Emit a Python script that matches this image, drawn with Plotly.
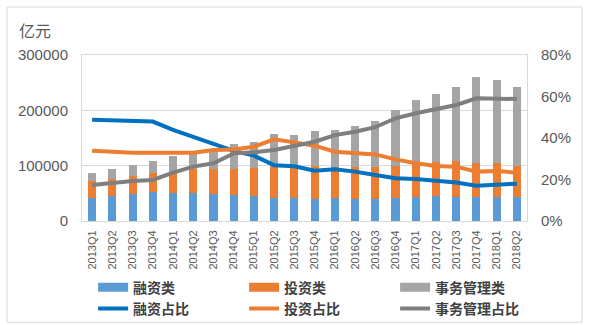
import plotly.graph_objects as go

quarters = ["2013Q1","2013Q2","2013Q3","2013Q4","2014Q1","2014Q2","2014Q3","2014Q4",
            "2015Q1","2015Q2","2015Q3","2015Q4","2016Q1","2016Q2","2016Q3","2016Q4",
            "2017Q1","2017Q2","2017Q3","2017Q4","2018Q1","2018Q2"]

financing = [42000,46000,49000,53000,51000,51000,49000,47000,46000,42000,42000,40000,
             42000,40000,40000,42000,43000,46000,43000,43000,43000,43000]
investment = [30000,30000,33000,34000,37000,43000,45000,47000,50000,55000,58000,60000,
              56000,58000,58000,58000,59000,61000,65000,62000,62000,57000]
admin = [15000,18000,19000,21000,30000,28000,32000,46000,47000,60000,56000,63000,
         67000,74000,83000,101000,117000,123000,134000,155000,150000,142000]

financing_pct = [48.8,48.4,48.0,47.9,43.9,40.5,37.5,33.8,31.5,26.9,26.4,24.2,
                 24.9,23.8,22.2,20.6,20.2,19.3,18.6,17.0,17.5,18.0]
investment_pct = [33.9,33.2,32.9,32.9,33.1,32.9,34.2,34.5,35.8,39.4,37.9,36.3,
                  33.4,32.9,32.1,29.7,27.8,26.5,26.2,23.8,24.1,23.3]
admin_pct = [17.3,18.5,19.3,19.8,23.3,26.2,27.8,32.6,33.1,34.2,36.1,38.2,
             41.4,43.0,45.2,49.5,51.9,53.8,55.9,59.1,58.8,58.8]

bar_names = ["融资类", "投资类", "事务管理类"]
line_names = ["融资占比", "投资占比", "事务管理占比"]
bar_colors = ["#5B9BD5", "#ED7D31", "#A5A5A5"]
line_colors = ["#0070C0", "#ED7D31", "#7F7F7F"]

fig = go.Figure()
for name, vals, col in zip(bar_names, [financing, investment, admin], bar_colors):
    fig.add_trace(go.Bar(x=quarters, y=vals, name=name, marker_color=col,
                         marker_line_width=0, showlegend=False))
for name, vals, col in zip(line_names, [financing_pct, investment_pct, admin_pct], line_colors):
    fig.add_trace(go.Scatter(x=quarters, y=[v / 100 for v in vals], name=name, mode="lines",
                             line=dict(color=col, width=4), yaxis="y2", showlegend=False))

# legend entries (bars shown as wide swatches, lines as thinner swatches)
for name, col in zip(bar_names, bar_colors):
    fig.add_trace(go.Scatter(x=[None], y=[None], name=name, mode="lines",
                             line=dict(color=col, width=9)))
for name, col in zip(line_names, line_colors):
    fig.add_trace(go.Scatter(x=[None], y=[None], name=name, mode="lines",
                             line=dict(color=col, width=4)))

tickfont = dict(family="Liberation Sans, Arial, sans-serif", size=15, color="#595959")
grid = "#D9D9D9"

fig.update_layout(
    width=589, height=325,
    margin=dict(l=82, r=62, t=55, b=104, autoexpand=False),
    paper_bgcolor="white", plot_bgcolor="white",
    barmode="stack", bargap=0.6,
    font=dict(family="Noto Sans CJK SC, sans-serif", color="#404040"),
    xaxis=dict(type="category", tickangle=-90, showgrid=False, ticks="",
               tickfont=dict(family="Liberation Sans, Arial, sans-serif", size=11, color="#595959"),
               showline=True, linecolor=grid, linewidth=1, mirror=True, ticklabelstandoff=4),
    yaxis=dict(range=[0, 300000], dtick=100000, showgrid=True, gridcolor=grid, gridwidth=1,
               tickfont=tickfont, zeroline=False, ticks="", tickformat="d",
               showline=True, linecolor=grid, mirror=True, ticklabelstandoff=10),
    yaxis2=dict(range=[0, 0.8], dtick=0.2, overlaying="y", side="right", showgrid=False,
                tickformat=".0%", tickfont=tickfont, zeroline=False, ticks="",
                ticklabelstandoff=13),
    legend=dict(orientation="h", x=-0.002, xanchor="left",
                y=-0.305, yanchor="top", indentation=12,
                entrywidth=94, traceorder="normal",
                font=dict(size=14, color="#404040", family="Noto Sans CJK SC, sans-serif",
                          weight="bold"),
                itemwidth=30, tracegroupgap=0, bgcolor="rgba(0,0,0,0)"),
    annotations=[dict(text="亿元", xref="paper", yref="paper", x=-0.066, y=1.153,
                      xanchor="right", yanchor="middle", showarrow=False,
                      font=dict(size=16, color="#595959", family="Noto Sans CJK SC, sans-serif"))],
    shapes=[dict(type="rect", xref="paper", yref="paper", x0=-0.1685, x1=1.1236,
                 y0=-0.61, y1=1.289, line=dict(color="#D9D9D9", width=1), layer="below")],
)

fig.write_html("out.html")
